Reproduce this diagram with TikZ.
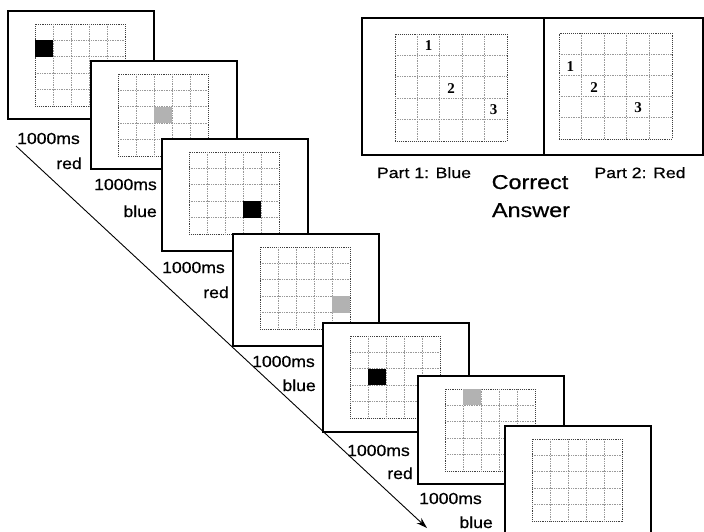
\documentclass[tikz,border=0pt]{standalone}
\usepackage{fontspec}
\setmainfont{Liberation Sans}
\newfontfamily\labelfont[UprightFeatures={FakeBold=0.6}]{Liberation Sans}
\newfontfamily\numfont{Liberation Serif}
\usetikzlibrary{calc,arrows.meta}

\tikzset{
  panelbox/.style={draw=black, line width=1.2pt, fill=white, inner sep=0pt, outer sep=0pt},
  gridbox/.style={draw=black!75, densely dotted, line width=0.9pt, inner sep=0pt, outer sep=0pt},
  gridline/.style={draw=black!40, densely dotted, line width=0.7pt},
  timelabel/.style={font=\labelfont\fontsize{16}{18}\selectfont, xscale=1.1, anchor=base east, inner sep=0pt},
  partlabel/.style={font=\labelfont\fontsize{15}{18}\selectfont, xscale=1.18, anchor=base, inner sep=0pt},
  biglabel/.style={font=\labelfont\fontsize{20}{24}\selectfont, xscale=1.17, anchor=base, inner sep=0pt},
  numlabel/.style={font=\numfont\bfseries\fontsize{15}{16}\selectfont, inner sep=0pt},
  timearrow/.style={draw=black, line width=0.9pt, -{Stealth[length=11pt,width=7pt]}}
}

% grid lines inside a named grid node: name, cell width, cell height
\newcommand{\gridlines}[3]{%
  \foreach \gi in {1,...,4}{%
    \draw[gridline] ($(#1.north west)+(\gi*#2,0)$) -- ($(#1.south west)+(\gi*#2,0)$);
    \draw[gridline] ($(#1.north west)+(0,\gi*#3)$) -- ($(#1.north east)+(0,\gi*#3)$);
  }%
}
% filled cell: panel name, column, row, colour
\newcommand{\cellfill}[4]{%
  \fill[#4] ($(#1g.north west)+(#2*18,#3*16.4)$) rectangle +(18,16.4);%
}
% stimulus panel: name, left, top, height, extra
\newcommand{\stimpanel}[5]{%
  \node[panelbox, minimum width=146pt, minimum height=#4pt, anchor=north west] (#1) at (#2,#3) {};
  \node[gridbox, minimum width=90pt, minimum height=82pt, anchor=north west] (#1g) at ($(#1.north west)+(27,13)$) {};
  \gridlines{#1g}{18}{16.4}
  #5
}

\begin{document}
\begin{tikzpicture}[x=1pt,y=-1pt]
\useasboundingbox (0,0) rectangle (704,531);
\clip (0,0) rectangle (704,531);

% time arrow
\coordinate (arrowstart) at (16,146);
\coordinate (arrowend) at (427,528);
\draw[timearrow] (arrowstart) -- (arrowend);

% stimulus sequence
\stimpanel{P1}{8}{11}{108}{\cellfill{P1}{0}{1}{black}}
\stimpanel{P2}{91}{61}{108}{\cellfill{P2}{2}{2}{black!30}}
\stimpanel{P3}{162}{139}{112}{\cellfill{P3}{3}{3}{black}}
\stimpanel{P4}{233}{234}{112}{\cellfill{P4}{4}{3}{black!30}}
\stimpanel{P5}{323}{323}{109}{\cellfill{P5}{1}{2}{black}}
\stimpanel{P6}{418}{376}{108}{\cellfill{P6}{1}{0}{black!30}}
\stimpanel{P7}{505}{426}{125}{}

% time labels
\node[timelabel] (t1) at (80,144) {1000ms};
\node[timelabel] (c1) at (82,169) {red};
\node[timelabel] (t2) at (157,190) {1000ms};
\node[timelabel] (c2) at (157,217) {blue};
\node[timelabel] (t3) at (225,273) {1000ms};
\node[timelabel] (c3) at (229,298) {red};
\node[timelabel] (t4) at (315,367) {1000ms};
\node[timelabel] (c4) at (316,391) {blue};
\node[timelabel] (t5) at (410,456) {1000ms};
\node[timelabel] (c5) at (413,479) {red};
\node[timelabel] (t6) at (482,504) {1000ms};
\node[timelabel] (c6) at (493,528) {blue};

% correct answer panels
\node[panelbox, minimum width=182pt, minimum height=137pt, anchor=north west] (A1) at (362,18) {};
\node[gridbox, minimum width=112pt, minimum height=107pt, anchor=north west] (A1g) at (395,34) {};
\gridlines{A1g}{22.4}{21.4}
\node[panelbox, minimum width=159pt, minimum height=137pt, anchor=north west] (A2) at (544,18) {};
\node[gridbox, minimum width=113pt, minimum height=106pt, anchor=north west] (A2g) at (559,33) {};
\gridlines{A2g}{22.6}{21.2}

\node[numlabel] (a11) at ($(A1g.north west)+(1.5*22.4,0.55*21.4)$) {1};
\node[numlabel] (a12) at ($(A1g.north west)+(2.5*22.4,2.55*21.4)$) {2};
\node[numlabel] (a13) at ($(A1g.north west)+(4.4*22.4,3.55*21.4)$) {3};
\node[numlabel] (a21) at ($(A2g.north west)+(0.5*22.6,1.6*21.2)$) {1};
\node[numlabel] (a22) at ($(A2g.north west)+(1.55*22.6,2.55*21.2)$) {2};
\node[numlabel] (a23) at ($(A2g.north west)+(3.5*22.6,3.5*21.2)$) {3};

\node[partlabel] (p1) at (424,178) {Part 1: Blue};
\node[partlabel] (p2) at (640,178) {Part 2: Red};
\node[biglabel] (ca1) at (530,189) {Correct};
\node[biglabel] (ca2) at (531,217) {Answer};
\end{tikzpicture}
\end{document}
